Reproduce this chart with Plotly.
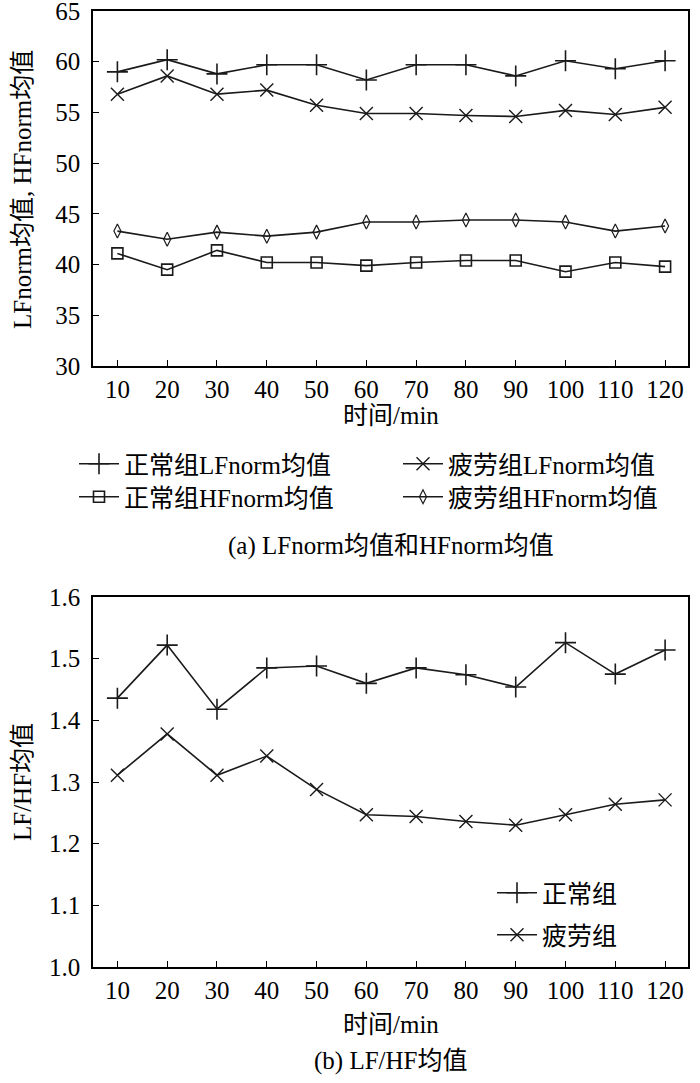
import plotly.graph_objects as go
from plotly.subplots import make_subplots

# ---- data ----
time_min = [10, 20, 30, 40, 50, 60, 70, 80, 90, 100, 110, 120]
normal_lf = [59.0, 60.2, 58.8, 59.7, 59.7, 58.2, 59.7, 59.7, 58.6, 60.1, 59.3, 60.1]
fatigue_lf = [56.8, 58.6, 56.8, 57.2, 55.7, 54.9, 54.9, 54.7, 54.6, 55.2, 54.8, 55.5]
normal_hf = [41.1, 39.5, 41.4, 40.2, 40.2, 39.9, 40.2, 40.4, 40.4, 39.3, 40.2, 39.8]
fatigue_hf = [43.3, 42.5, 43.2, 42.8, 43.2, 44.2, 44.2, 44.4, 44.4, 44.2, 43.3, 43.8]
normal_ratio = [1.436, 1.522, 1.418, 1.485, 1.488, 1.460, 1.485, 1.474, 1.454, 1.526, 1.475, 1.514]
fatigue_ratio = [1.311, 1.378, 1.311, 1.342, 1.288, 1.247, 1.244, 1.236, 1.230, 1.247, 1.264, 1.271]

names_top = ["正常组LFnorm均值", "疲劳组LFnorm均值", "正常组HFnorm均值", "疲劳组HFnorm均值"]
names_bottom = ["正常组", "疲劳组"]
x_ticks = time_min

FONT = "Liberation Serif, 'Times New Roman', 'Noto Sans CJK SC', serif"
LC = "#1a1a1a"
FS = 25

W, H = 700, 1083
L, R, T, B = 93, 700 - 688, 11, 1083 - 967
PH = H - T - B
PW = W - L - R


def py(pix):
    return (H - B - pix) / PH


def px(pix):
    return (pix - L) / PW


def cx(pix):
    return pix / W


def cy(pix):
    return 1 - pix / H


fig = make_subplots(rows=2, cols=1)

line = dict(color=LC, width=1.6)


def mk(sym, size, lw=1.4):
    return dict(symbol=sym, size=size, color=LC, line=dict(color=LC, width=lw))


fig.add_trace(go.Scatter(x=time_min, y=normal_lf, name=names_top[0], mode="lines+markers",
                         line=line, marker=mk("cross-thin-open", 15, 1.6), legend="legend"), row=1, col=1)
fig.add_trace(go.Scatter(x=time_min, y=fatigue_lf, name=names_top[1], mode="lines+markers",
                         line=line, marker=mk("x-thin-open", 13, 1.4), legend="legend2"), row=1, col=1)
fig.add_trace(go.Scatter(x=time_min, y=normal_hf, name=names_top[2], mode="lines+markers",
                         line=line, marker=mk("square-open", 11, 1.6), legend="legend3"), row=1, col=1)
fig.add_trace(go.Scatter(x=time_min, y=fatigue_hf, name=names_top[3], mode="lines+markers",
                         line=line, marker=mk("diamond-tall-open", 10, 1.2), legend="legend4"), row=1, col=1)

fig.add_trace(go.Scatter(x=time_min, y=normal_ratio, name=names_bottom[0], mode="lines+markers",
                         line=line, marker=mk("cross-thin-open", 15, 1.6), legend="legend5"), row=2, col=1)
fig.add_trace(go.Scatter(x=time_min, y=fatigue_ratio, name=names_bottom[1], mode="lines+markers",
                         line=line, marker=mk("x-thin-open", 13, 1.4), legend="legend6"), row=2, col=1)

axis_common = dict(showline=True, linecolor="black", linewidth=1.5, mirror=True,
                   ticks="inside", ticklen=6, tickwidth=1.3, tickcolor="black",
                   showgrid=False, zeroline=False, tickangle=0, automargin=False,
                   tickfont=dict(family=FONT, size=FS, color="black"))

fig.update_xaxes(**axis_common, range=[5.1, 124.6], tickvals=x_ticks)
fig.update_yaxes(**axis_common, ticklabelstandoff=6)

fig.update_layout(
    xaxis=dict(domain=[0, 1]),
    yaxis=dict(domain=[py(366), 1.0], range=[30, 65], dtick=5),
    xaxis2=dict(domain=[0, 1]),
    yaxis2=dict(domain=[0, py(597)], range=[1.0, 1.6], dtick=0.1, tickformat=".1f"),
)

leg_common = dict(orientation="v", font=dict(family=FONT, size=FS, color="black"),
                  bgcolor="rgba(0,0,0,0)", itemwidth=40, xref="container", yref="container",
                  xanchor="left", yanchor="middle", itemclick=False, tracegroupgap=0)

tf = dict(family=FONT, size=FS, color="black")


def ann(text, x, y, angle=0):
    return dict(text=text, xref="paper", yref="paper", x=x, y=y, showarrow=False,
                xanchor="center", yanchor="middle", textangle=angle, font=tf)


fig.update_layout(
    width=W, height=H,
    margin=dict(l=L, r=R, t=T, b=B, autoexpand=False),
    paper_bgcolor="white", plot_bgcolor="white",
    font=tf,
    showlegend=True,
    hovermode=False,
    legend=dict(**leg_common, x=cx(74), y=cy(464)),
    legend2=dict(**leg_common, x=cx(398), y=cy(464)),
    legend3=dict(**leg_common, x=cx(74), y=cy(497)),
    legend4=dict(**leg_common, x=cx(398), y=cy(497)),
    legend5=dict(**leg_common, x=cx(492), y=cy(893)),
    legend6=dict(**leg_common, x=cx(492), y=cy(935)),
    annotations=[
        ann("时间/min", 0.5, py(415)),
        ann("(a) LFnorm均值和HFnorm均值", 0.5, py(546)),
        ann("LFnorm均值, HFnorm均值", px(22), py(190), -90),
        ann("时间/min", 0.5, py(1024)),
        ann("(b) LF/HF均值", 0.5, py(1061)),
        ann("LF/HF均值", px(22), py(782), -90),
    ],
)

fig.write_html("out.html", config={"displayModeBar": False},
               post_script="document.body.style.margin='0';document.body.style.overflow='hidden';")
